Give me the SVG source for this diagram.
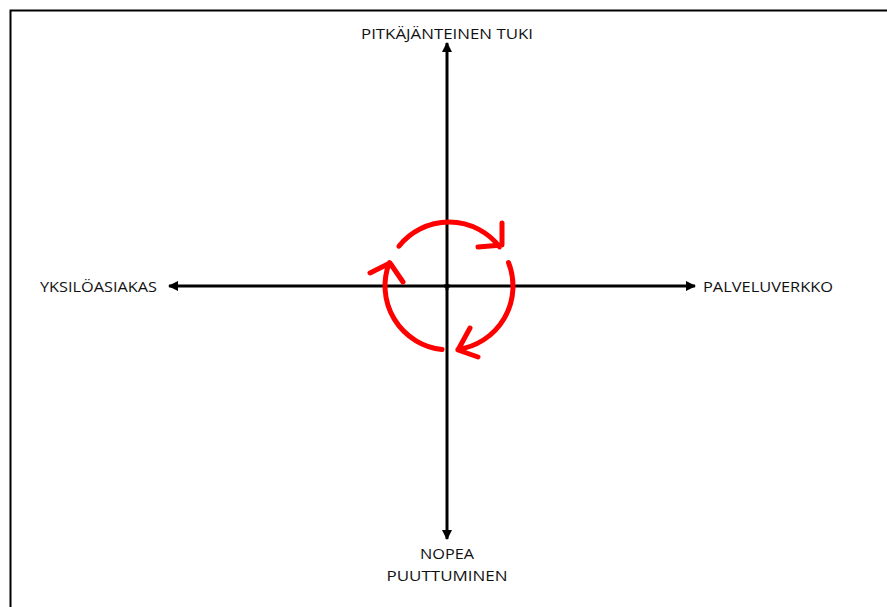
<svg xmlns="http://www.w3.org/2000/svg" width="887" height="607" viewBox="0 0 887 607">
<defs>
<marker id="ah" viewBox="0 0 10 10" refX="9" refY="5" markerWidth="10" markerHeight="10" markerUnits="userSpaceOnUse" orient="auto">
<path d="M0,0 L10,5 L0,10 Z" fill="#000"/>
</marker>
</defs>
<style>
.lbl{font-family:"Open Sans","Liberation Sans",sans-serif;font-size:15px;fill:#111;}
.ax{stroke:#000;stroke-width:3;fill:none;}
.cyc{stroke:#ff0000;stroke-width:5;fill:none;stroke-linecap:round;stroke-linejoin:round;}
</style>
<rect width="887" height="607" fill="#fff"/>
<path d="M10.5,607 V10.5 H887" stroke="#000" stroke-width="2" fill="none"/>
<g id="connectors">
<line class="ax" x1="447" y1="290" x2="447" y2="43" marker-end="url(#ah)"/>
<line class="ax" x1="447" y1="284" x2="447" y2="539" marker-end="url(#ah)"/>
<line class="ax" x1="450" y1="286" x2="169" y2="286" marker-end="url(#ah)"/>
<line class="ax" x1="444" y1="286" x2="695" y2="286" marker-end="url(#ah)"/>
</g>
<g id="cycle">
<path class="cyc" d="M398.9,246.2 A64,64 0 0 1 499.6,246.9 M502,223 L502,245 L478,247"/>
<path class="cyc" d="M508.5,262.5 A64,64 0 0 1 457.9,349.4 M470,328 L458,350 L478,357"/>
<path class="cyc" d="M442.1,349.6 A64,64 0 0 1 389.4,262.7 M370,273 L390,263 L403,282"/>
</g>
<g id="top"><text class="lbl" x="447" y="39" text-anchor="middle" textLength="172" lengthAdjust="spacingAndGlyphs">PITKÄJÄNTEINEN TUKI</text></g>
<g id="left"><text class="lbl" x="40" y="292" textLength="117" lengthAdjust="spacingAndGlyphs">YKSILÖASIAKAS</text></g>
<g id="right"><text class="lbl" x="703" y="292" textLength="130" lengthAdjust="spacingAndGlyphs">PALVELUVERKKO</text></g>
<g id="bottom">
<text class="lbl" x="447" y="559" text-anchor="middle" textLength="54" lengthAdjust="spacingAndGlyphs">NOPEA</text>
<text class="lbl" x="447" y="581" text-anchor="middle" textLength="121" lengthAdjust="spacingAndGlyphs">PUUTTUMINEN</text>
</g>
</svg>
